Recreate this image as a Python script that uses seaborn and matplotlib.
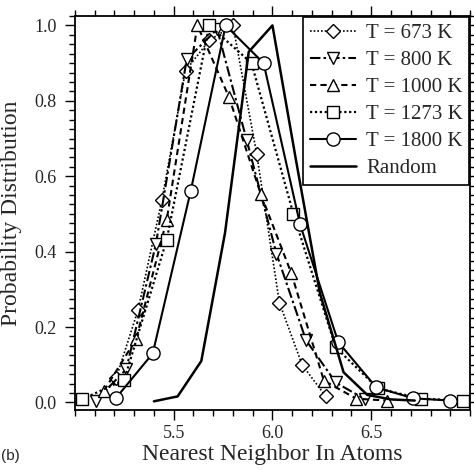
import matplotlib
matplotlib.use("Agg")
import matplotlib.pyplot as plt
import seaborn as sns
import numpy as np
from matplotlib.ticker import MultipleLocator, FixedLocator

# ---- data ----
labels = ["T = 673 K", "T = 800 K", "T = 1000 K", "T = 1273 K", "T = 1800 K", "Random"]

x_673 = [5.21, 5.32, 5.44, 5.56, 5.68, 5.80, 5.92, 6.035, 6.15, 6.27]
y_673 = [0.066, 0.246, 0.536, 0.88, 0.96, 1.0, 0.66, 0.265, 0.10, 0.016]

x_800 = [5.106, 5.26, 5.41, 5.566, 5.72, 5.87, 6.02, 6.17, 6.32, 6.47]
y_800 = [0.005, 0.088, 0.42, 0.91, 0.99, 0.695, 0.395, 0.165, 0.053, 0.008]

x_1000 = [5.146, 5.31, 5.465, 5.62, 5.78, 5.94, 6.096, 6.26, 6.424, 6.58]
y_1000 = [0.03, 0.168, 0.485, 1.0, 0.81, 0.554, 0.342, 0.058, 0.01, 0.005]

x_1273 = [5.035, 5.25, 5.465, 5.68, 5.894, 6.106, 6.32, 6.535, 6.75, 6.965]
y_1273 = [0.008, 0.06, 0.432, 1.0, 0.90, 0.50, 0.146, 0.037, 0.01, 0.005]

x_1800 = [5.21, 5.394, 5.586, 5.763, 5.955, 6.14, 6.333, 6.525, 6.712, 6.90]
y_1800 = [0.013, 0.13, 0.56, 1.0, 0.90, 0.472, 0.16, 0.04, 0.011, 0.005]

x_rand = [5.40, 5.52, 5.64, 5.76, 5.88, 6.00, 6.12, 6.24, 6.36, 6.48, 6.60, 6.72]
y_rand = [0.003, 0.016, 0.11, 0.45, 0.93, 1.0, 0.64, 0.29, 0.08, 0.02, 0.008, 0.005]

x_ticks = [5.5, 6.0, 6.5]
y_ticks = [0.0, 0.2, 0.4, 0.6, 0.8, 1.0]

# ---- styling ----
sns.set_theme(style="ticks")
plt.rcParams["font.family"] = ["Liberation Serif", "DejaVu Serif"]

fig = plt.figure(figsize=(4.74, 4.70), dpi=100)
ax = fig.add_axes([0.158, 0.1277, 0.9916 - 0.158, 0.966 - 0.1277])

series = [
    (x_673, y_673, "D", (0, (1, 1.2)), 1.2, 7.0),
    (x_800, y_800, "v", (0, (5, 1.5, 1.2, 1.5)), 1.5, 8.5),
    (x_1000, y_1000, "^", (0, (3, 2)), 1.5, 8.5),
    (x_1273, y_1273, "s", (0, (1, 1.2)), 1.6, 8.5),
    (x_1800, y_1800, "o", "-", 1.5, 9.5),
]

for (xs, ys, mk, ls, lw, ms), lab in zip(series, labels[:5]):
    sns.lineplot(x=xs, y=ys, ax=ax, color="black", linestyle=ls, linewidth=lw,
                 marker=mk, markersize=ms, markerfacecolor="white",
                 markeredgecolor="black", markeredgewidth=1.0, label=lab,
                 sort=False, errorbar=None)

sns.lineplot(x=x_rand, y=y_rand, ax=ax, color="black", linestyle="-",
             linewidth=1.8, label=labels[5], sort=False, errorbar=None)

ax.set_xlim(5.0, 7.0)
ax.set_ylim(-0.02, 1.025)
ax.xaxis.set_major_locator(FixedLocator(x_ticks))
ax.xaxis.set_minor_locator(MultipleLocator(0.1))
ax.yaxis.set_major_locator(FixedLocator(y_ticks))
ax.yaxis.set_minor_locator(MultipleLocator(0.025))
ax.set_xticklabels([f"{v:.1f}" for v in x_ticks])
ax.set_yticklabels([f"{v:.1f}" for v in y_ticks])

ax.tick_params(which="both", direction="out", top=True, right=True,
               labelsize=13, color="black", width=1.0)
ax.tick_params(which="major", length=7)
ax.tick_params(axis="y", which="major", pad=6)
ax.tick_params(axis="x", which="major", pad=4)
ax.tick_params(which="minor", length=4)
for sp in ax.spines.values():
    sp.set_visible(True)
    sp.set_linewidth(1.3)
    sp.set_color("black")

ax.set_xlabel("Nearest Neighbor In Atoms", fontsize=17, labelpad=1)
ax.set_ylabel("Probability Distribution", fontsize=17, labelpad=9)

leg = ax.legend(loc="upper right", fontsize=15, frameon=True, fancybox=False,
                edgecolor="black", handlelength=2.2, borderaxespad=0.05,
                labelspacing=0.36, handletextpad=0.5, borderpad=0.3)
leg.get_frame().set_linewidth(1.2)
leg.get_frame().set_alpha(1)

fig.text(0.002, 0.022, "(b)", fontsize=11, family="Liberation Sans")

fig.savefig("out.png", dpi=100)
